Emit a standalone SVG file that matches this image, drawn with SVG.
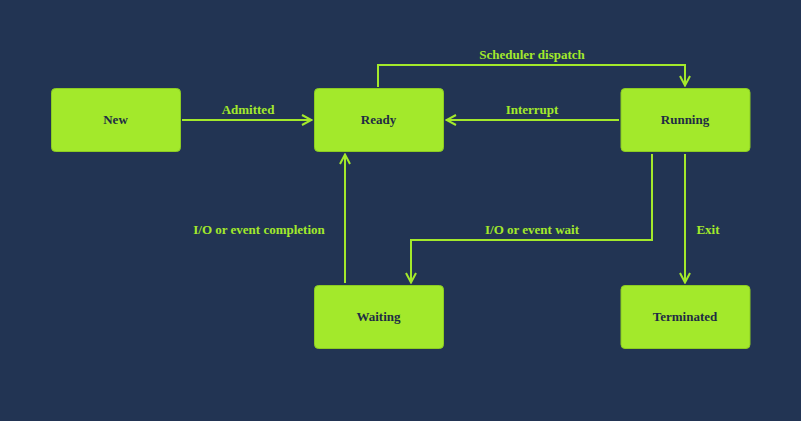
<svg xmlns="http://www.w3.org/2000/svg" width="801" height="421" viewBox="0 0 801 421">
<style>
.node rect{fill:#a3e92b;stroke:#8ccc22;stroke-width:1}
.node text{font-family:"Liberation Serif",serif;font-weight:bold;font-size:13px;fill:#1f2c44;text-anchor:middle}
.edge{fill:none;stroke:#a3e92b;stroke-width:2}
.lbl{font-family:"Liberation Serif",serif;font-weight:bold;font-size:13px;fill:#a3e92b;text-anchor:middle}
</style>
<defs>
<marker id="arr" viewBox="0 0 12 12" refX="11" refY="6" markerWidth="12" markerHeight="12" markerUnits="userSpaceOnUse" orient="auto">
<path d="M1,1 L10.5,6 L1,11" fill="none" stroke="#a3e92b" stroke-width="2"/>
</marker>
</defs>
<rect width="801" height="421" fill="#223453"/>
<g id="connectors">
<path class="edge" d="M182,120 H312" marker-end="url(#arr)"/>
<path class="edge" d="M378,87 V65 H685 V86" marker-end="url(#arr)"/>
<path class="edge" d="M619,120 H446" marker-end="url(#arr)"/>
<path class="edge" d="M652,154 V240 H411 V283" marker-end="url(#arr)"/>
<path class="edge" d="M685,154 V283" marker-end="url(#arr)"/>
<path class="edge" d="M345,283 V154" marker-end="url(#arr)"/>
<text class="lbl" x="248" y="114">Admitted</text>
<text class="lbl" x="532" y="59">Scheduler dispatch</text>
<text class="lbl" x="532" y="114">Interrupt</text>
<text class="lbl" x="532" y="234">I/O or event wait</text>
<text class="lbl" x="708" y="234">Exit</text>
<text class="lbl" x="259" y="234">I/O or event completion</text>
</g>
<g id="new" class="node"><rect x="51.5" y="88.5" width="129" height="63" rx="4"/><text x="115.5" y="124">New</text></g>
<g id="ready" class="node"><rect x="314.5" y="88.5" width="129" height="63" rx="4"/><text x="378.5" y="124">Ready</text></g>
<g id="running" class="node"><rect x="621" y="88.5" width="129" height="63" rx="4"/><text x="685" y="124">Running</text></g>
<g id="waiting" class="node"><rect x="314.5" y="285.5" width="129" height="63" rx="4"/><text x="378.5" y="321">Waiting</text></g>
<g id="terminated" class="node"><rect x="621" y="285.5" width="129" height="63" rx="4"/><text x="685" y="321">Terminated</text></g>
</svg>
